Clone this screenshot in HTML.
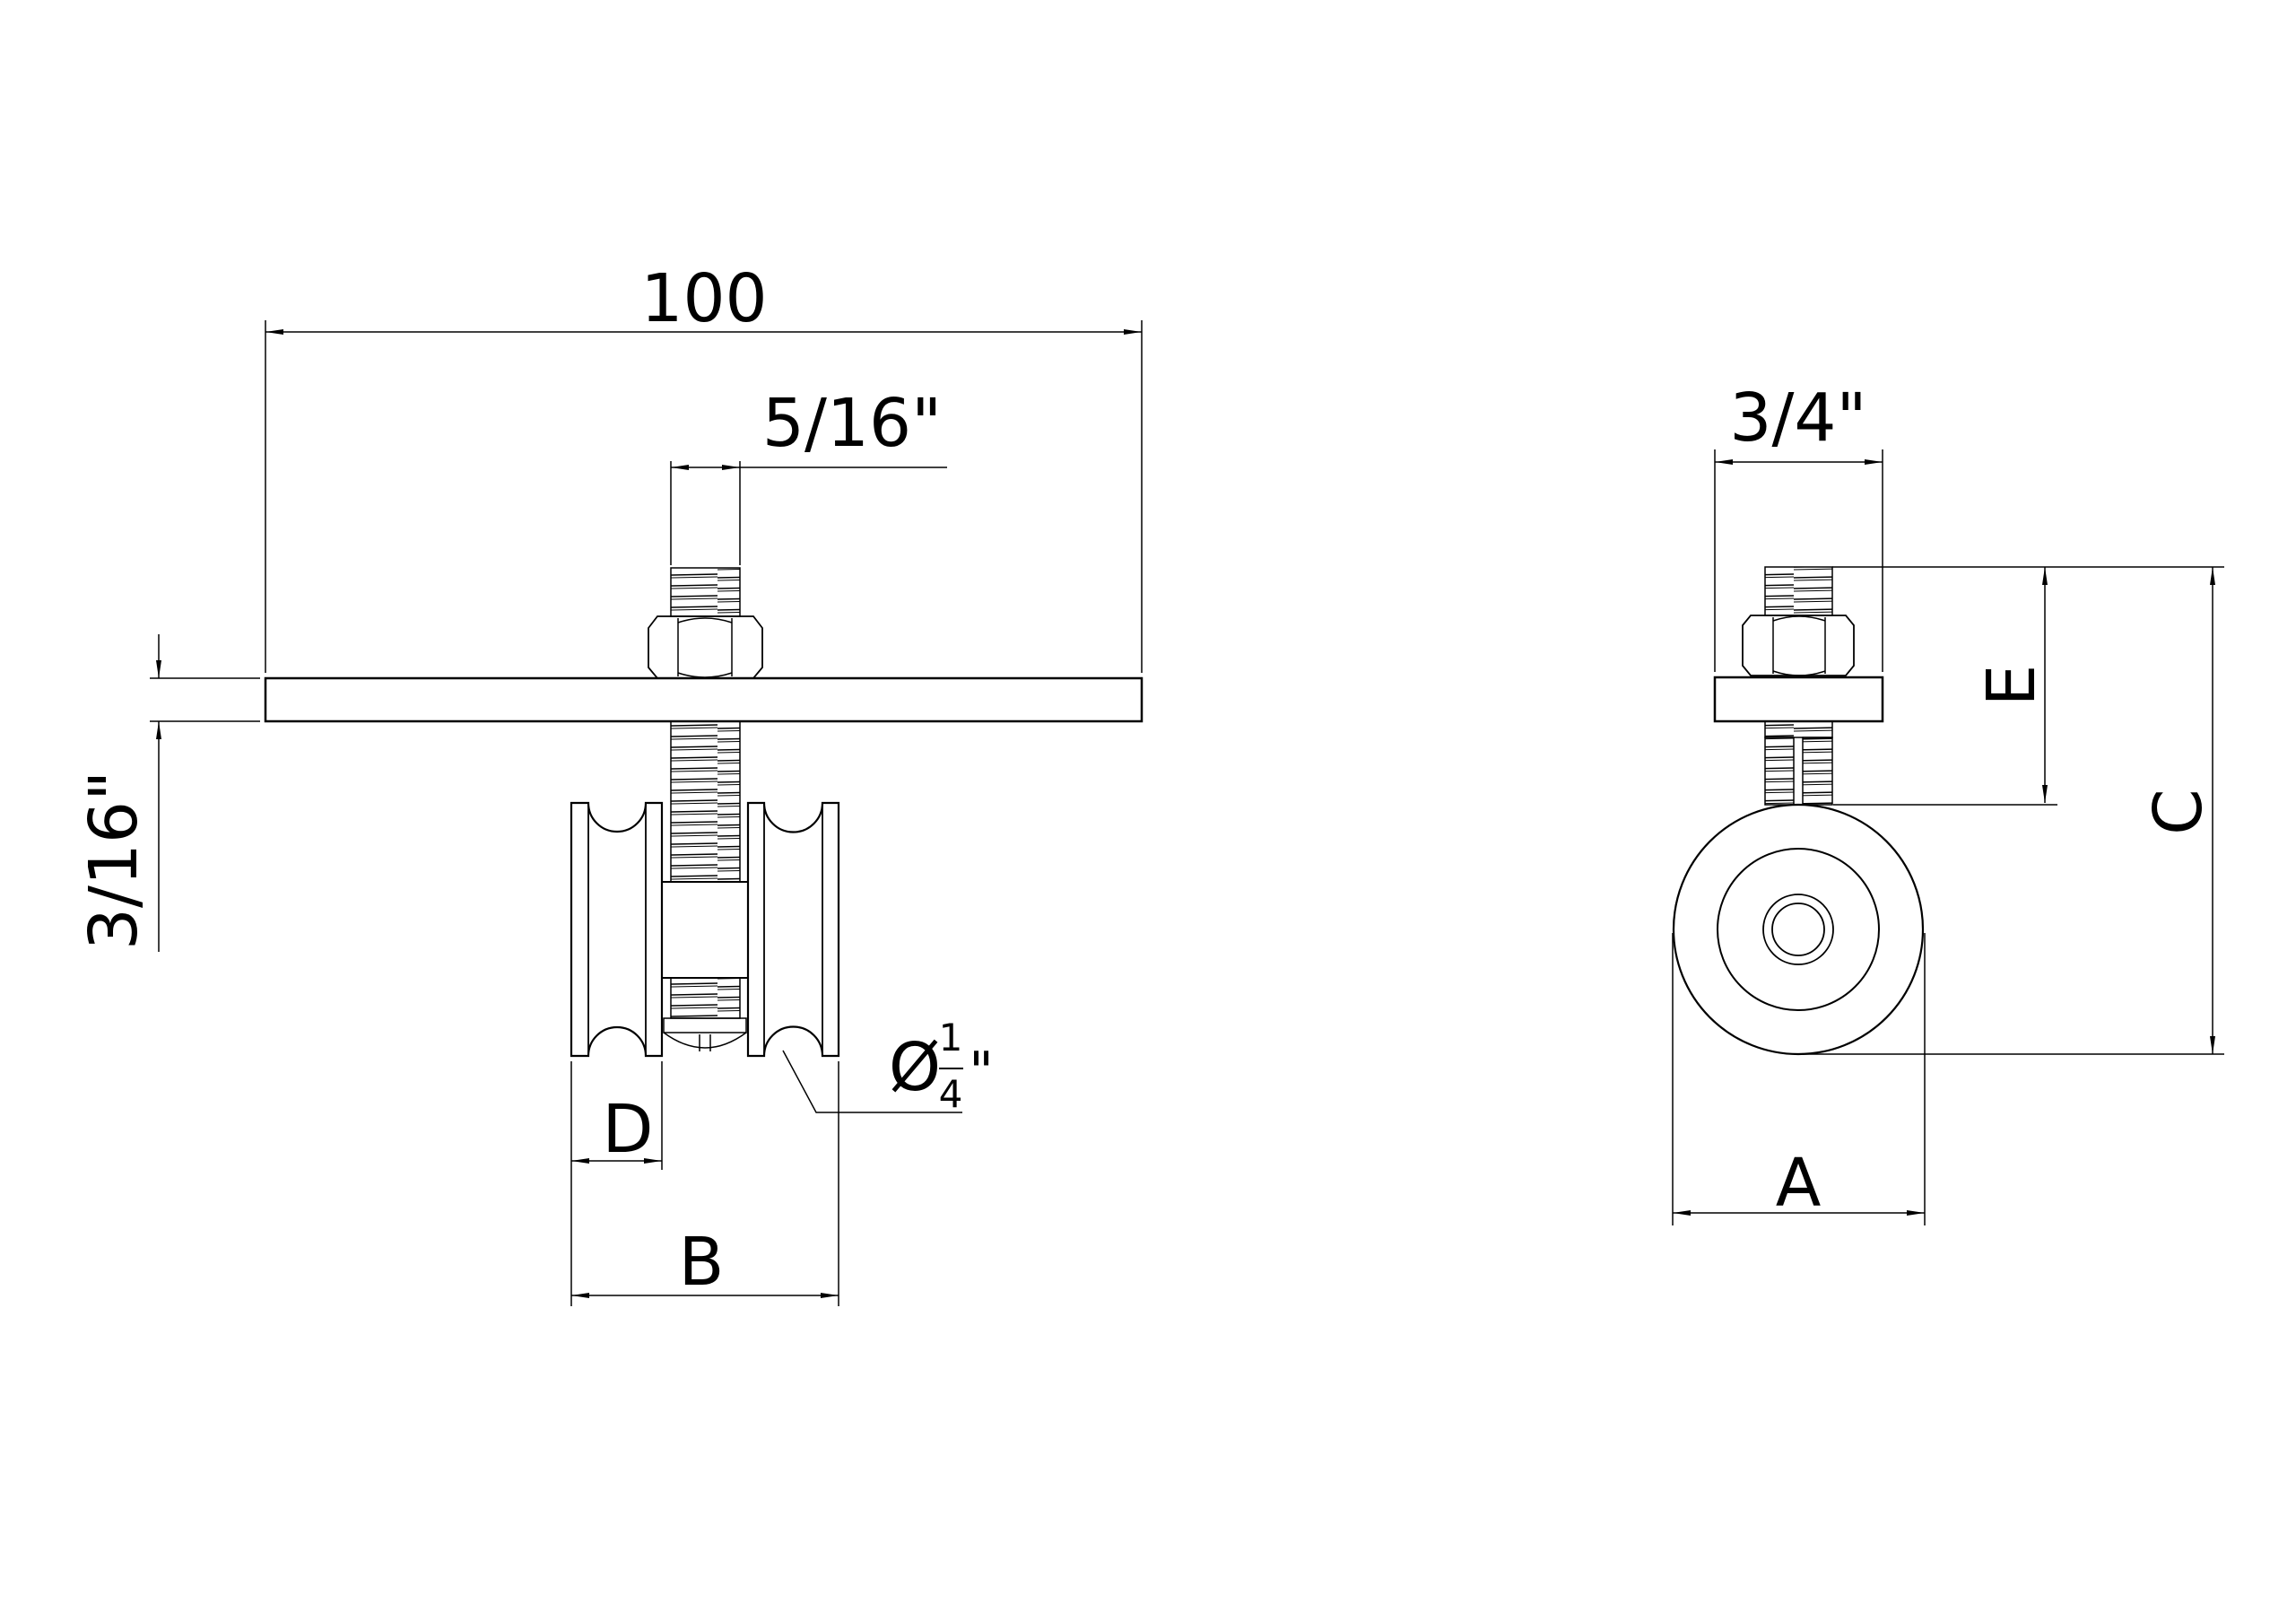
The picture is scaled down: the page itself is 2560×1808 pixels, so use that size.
<!DOCTYPE html>
<html><head><meta charset="utf-8"><style>
html,body{margin:0;padding:0;background:#fff}
svg{display:block}
text{font-family:"DejaVu Sans","Liberation Sans",sans-serif;fill:#000}
</style></head><body>
<svg width="2560" height="1808" viewBox="0 0 2560 1808" xmlns="http://www.w3.org/2000/svg">
<defs>
<marker id="ar" viewBox="0 0 20 8" refX="20" refY="4" markerWidth="20" markerHeight="8" orient="auto-start-reverse" markerUnits="userSpaceOnUse">
<path d="M0,1 L20,4 L0,7 Z" fill="#000"/></marker>
<pattern id="thr" patternUnits="userSpaceOnUse" width="200" height="12">
<line x1="0" y1="8" x2="200" y2="4" stroke="#000" stroke-width="1.5"/>
<line x1="0" y1="11" x2="200" y2="7" stroke="#000" stroke-width="1"/>
</pattern>
</defs>
<g fill="none" stroke="#000" stroke-width="2">
<line x1="296" y1="357" x2="296" y2="750" stroke-width="1.5"/>
<line x1="1273" y1="357" x2="1273" y2="750" stroke-width="1.5"/>
<line x1="296" y1="370" x2="1273" y2="370" stroke-width="1.5" marker-start="url(#ar)" marker-end="url(#ar)"/>
<line x1="748" y1="514" x2="748" y2="630" stroke-width="1.5"/>
<line x1="825" y1="514" x2="825" y2="630" stroke-width="1.5"/>
<line x1="748" y1="521" x2="825" y2="521" stroke-width="1.5" marker-start="url(#ar)" marker-end="url(#ar)"/>
<line x1="825" y1="521" x2="1056" y2="521" stroke-width="1.5"/>
<rect x="296" y="756" width="977" height="48" stroke-width="2.5"/>
<rect x="748" y="633" width="77" height="54" fill="url(#thr)" stroke-width="1.5"/>
<path d="M733,687 L840,687 L850,700 L850,744 L840,756 L733,756 L723,744 L723,700 Z" stroke-width="1.8"/>
<line x1="756" y1="689" x2="756" y2="754" stroke-width="1.5"/>
<line x1="816" y1="689" x2="816" y2="754" stroke-width="1.5"/>
<path d="M756,694 Q786,684 816,694 M756,750 Q786,760 816,750" stroke-width="1.5"/>
<rect x="748" y="804" width="77" height="179" fill="url(#thr)" stroke-width="1.5"/>
<path d="M637,895 L656,895 A32,32 0 0 0 720,895 L738,895 L738,1177 L720,1177 A32,32 0 0 0 656,1177 L637,1177 Z" stroke-width="2.2"/>
<line x1="656" y1="895" x2="656" y2="1177" stroke-width="1.8"/>
<line x1="720" y1="895" x2="720" y2="1177" stroke-width="1.8"/>
<path d="M834,895 L852,895 A32,32 0 0 0 917,895 L935,895 L935,1177 L917,1177 A32,32 0 0 0 852,1177 L834,1177 Z" stroke-width="2.2"/>
<line x1="852" y1="895" x2="852" y2="1177" stroke-width="1.8"/>
<line x1="917" y1="895" x2="917" y2="1177" stroke-width="1.8"/>
<rect x="738" y="983" width="96" height="107" stroke-width="2"/>
<rect x="748" y="1090" width="77" height="45" fill="url(#thr)" stroke-width="1.5"/>
<rect x="740" y="1135" width="92" height="16" stroke-width="1.5"/>
<path d="M740,1151 Q786,1185 832,1151" stroke-width="1.5"/>
<path d="M780,1153 L780,1172 M792,1153 L792,1172" stroke-width="1.5"/>
<polyline points="873,1171 910,1240 1073,1240" stroke-width="1.5"/>
<line x1="637" y1="1183" x2="637" y2="1456" stroke-width="1.5"/>
<line x1="738" y1="1183" x2="738" y2="1304" stroke-width="1.5"/>
<line x1="637" y1="1294" x2="738" y2="1294" stroke-width="1.5" marker-start="url(#ar)" marker-end="url(#ar)"/>
<line x1="935" y1="1183" x2="935" y2="1456" stroke-width="1.5"/>
<line x1="637" y1="1444" x2="935" y2="1444" stroke-width="1.5" marker-start="url(#ar)" marker-end="url(#ar)"/>
<line x1="167" y1="756" x2="290" y2="756" stroke-width="1.5"/>
<line x1="167" y1="804" x2="290" y2="804" stroke-width="1.5"/>
<line x1="177" y1="707" x2="177" y2="756" stroke-width="1.5" marker-end="url(#ar)"/>
<line x1="177" y1="1061" x2="177" y2="804" stroke-width="1.5" marker-end="url(#ar)"/>

<line x1="1912" y1="501" x2="1912" y2="749" stroke-width="1.5"/>
<line x1="2099" y1="501" x2="2099" y2="749" stroke-width="1.5"/>
<line x1="1912" y1="515" x2="2099" y2="515" stroke-width="1.5" marker-start="url(#ar)" marker-end="url(#ar)"/>
<rect x="1968" y="632" width="75" height="54" fill="url(#thr)" stroke-width="1.5"/>
<path d="M1952,686 L2058,686 L2067,697 L2067,742 L2058,753 L1952,753 L1943,742 L1943,697 Z" stroke-width="1.8"/>
<line x1="1977" y1="688" x2="1977" y2="751" stroke-width="1.5"/>
<line x1="2035" y1="688" x2="2035" y2="751" stroke-width="1.5"/>
<path d="M1977,692 Q2006,682 2035,692 M1977,748 Q2006,758 2035,748" stroke-width="1.5"/>
<rect x="1912" y="755" width="187" height="49" stroke-width="2.5"/>
<rect x="1968" y="804" width="75" height="18" fill="url(#thr)" stroke-width="1.5"/>
<rect x="1968" y="822" width="32" height="75" fill="url(#thr)" stroke-width="1.5"/>
<rect x="2010" y="822" width="33" height="75" fill="url(#thr)" stroke-width="1.5"/>
<circle cx="2005" cy="1036" r="139" stroke-width="2.2"/>
<circle cx="2005" cy="1036" r="90" stroke-width="2"/>
<circle cx="2005" cy="1036" r="39" stroke-width="1.8"/>
<circle cx="2005" cy="1036" r="29" stroke-width="1.8"/>
<line x1="2043" y1="632" x2="2480" y2="632" stroke-width="1.5"/>
<line x1="2044" y1="897" x2="2294" y2="897" stroke-width="1.5"/>
<line x1="2280" y1="632" x2="2280" y2="895" stroke-width="1.5" marker-start="url(#ar)" marker-end="url(#ar)"/>
<line x1="2010" y1="1175" x2="2480" y2="1175" stroke-width="1.5"/>
<line x1="2467" y1="632" x2="2467" y2="1175" stroke-width="1.5" marker-start="url(#ar)" marker-end="url(#ar)"/>
<line x1="1865" y1="1040" x2="1865" y2="1366" stroke-width="1.5"/>
<line x1="2146" y1="1040" x2="2146" y2="1366" stroke-width="1.5"/>
<line x1="1865" y1="1352" x2="2146" y2="1352" stroke-width="1.5" marker-start="url(#ar)" marker-end="url(#ar)"/>
</g>
<g font-size="74" text-anchor="middle">
<text x="785" y="358">100</text>
<text x="950" y="497">5/16"</text>
<text x="700" y="1284">D</text>
<text x="782" y="1432">B</text>
<text transform="translate(152,959) rotate(-90)">3/16"</text>
<text x="1020" y="1215">Ø</text>
<text x="1060" y="1171" font-size="42">1</text>
<text x="1060" y="1234" font-size="42">4</text>
<text x="1094" y="1215" font-size="60">"</text>
<text x="2005" y="491">3/4"</text>
<text transform="translate(2268,764) rotate(-90)">E</text>
<text transform="translate(2454,905) rotate(-90)">C</text>
<text x="2005" y="1344">A</text>
</g>
<line x1="1047" y1="1191" x2="1074" y2="1191" stroke="#000" stroke-width="2"/>
</svg>
</body></html>
